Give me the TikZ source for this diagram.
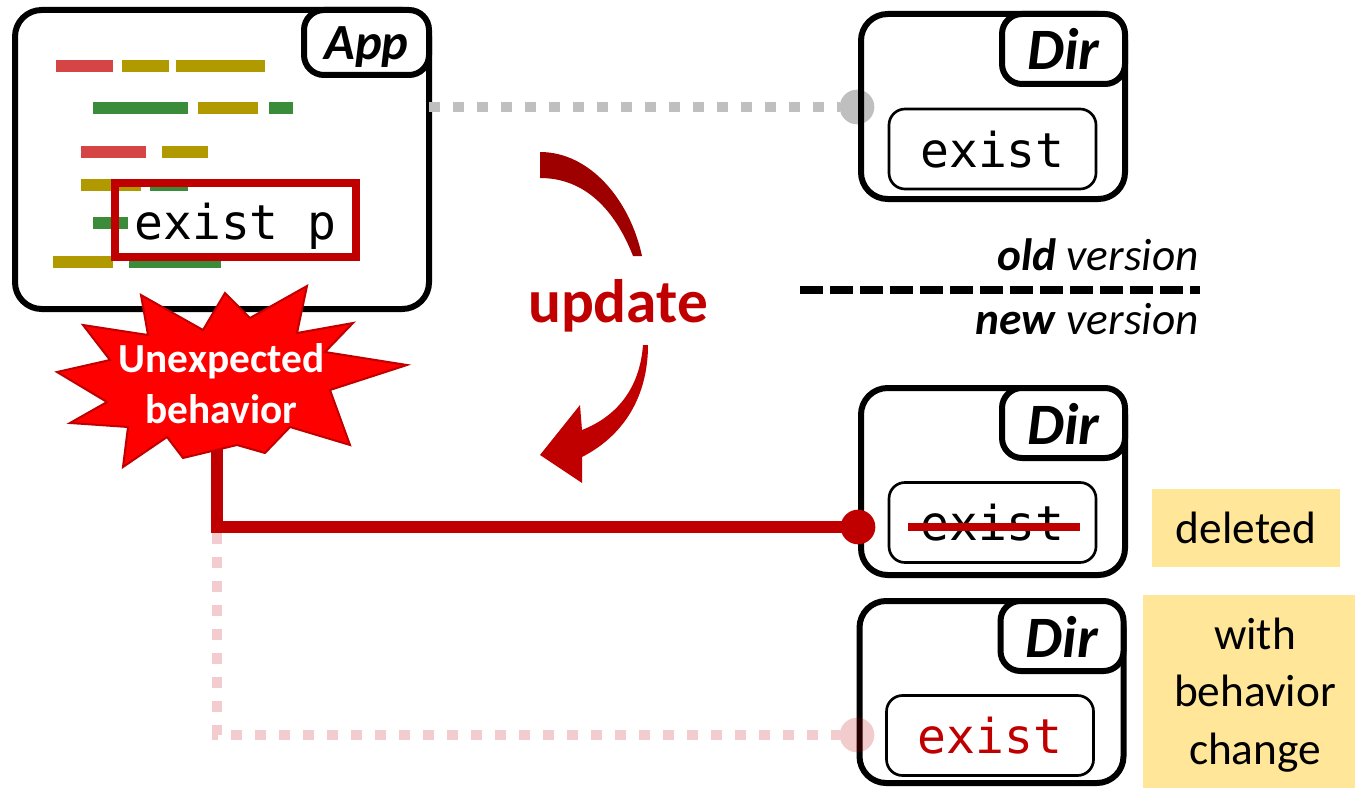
\documentclass[tikz,border=0pt]{standalone}
\usepackage{fontspec}
\setmainfont{Carlito}
\newfontfamily\codefont{DejaVu Sans Mono}
\usetikzlibrary{calc}

\definecolor{darkred}{RGB}{192,0,0}
\definecolor{arrowtop}{RGB}{158,0,0}
\definecolor{burstred}{RGB}{255,0,0}
\definecolor{noteyellow}{RGB}{255,230,153}
\definecolor{linkgray}{RGB}{191,191,191}
\definecolor{linkpink}{RGB}{242,204,206}
\definecolor{barred}{RGB}{213,69,69}
\definecolor{barolive}{RGB}{176,154,0}
\definecolor{bargreen}{RGB}{58,140,58}

\tikzset{
  outerbox/.style={draw=black, line width=4.5pt, rounded corners=20pt, inner sep=0pt, outer sep=0pt},
  tagbox/.style={draw=black, fill=white, line width=4.5pt, rounded corners=15pt, inner sep=0pt, outer sep=0pt,
    anchor=north east, text height=#1, text depth=0pt,
    font=\bfseries\itshape\fontsize{38pt}{40pt}\selectfont},
  dirtag/.style={tagbox=31.5pt, minimum width=92.25pt, minimum height=52.5pt,
    font=\bfseries\itshape\fontsize{44pt}{46pt}\selectfont},
  itembox/.style={draw=black, line width=2pt, rounded corners=12pt, inner sep=0pt, outer sep=0pt,
    minimum width=155.25pt, minimum height=60pt, text height=27pt, text depth=0pt,
    font=\codefont\fontsize{36pt}{38pt}\selectfont},
  dirbox/.style={outerbox, minimum width=198pt, minimum height=#1},
  anchordot/.style={circle, inner sep=0pt, outer sep=0pt, minimum size=26pt},
  link/.style={line width=7.5pt, dash pattern=on 8.25pt off 9.75pt},
  note/.style={fill=noteyellow, inner sep=0pt, outer sep=0pt, align=center,
    font=\fontsize{34pt}{43pt}\selectfont},
  legendtext/.style={anchor=base east, inner sep=0pt, font=\fontsize{34pt}{36pt}\selectfont},
}

\begin{document}
\begin{tikzpicture}[x=0.75pt,y=-0.75pt]
\useasboundingbox (0,0) rectangle (1355,788);

% ---------- application source (coloured code lines) ----------
\foreach \xa/\xb/\ya/\col in {
   56/113/60/barred, 122/169/60/barolive, 176/265/60/barolive,
   93/188/102/bargreen, 198/258/102/barolive, 269/293/102/bargreen,
   81/146/146/barred, 162/208/146/barolive,
   81/141/179/barolive, 150/188/179/bargreen,
   93/128/217/bargreen,
   53/113/256/barolive, 129/221/256/bargreen}
  \fill[\col] (\xa,\ya) rectangle (\xb,\ya+12);

\node[outerbox, minimum width=310.5pt, minimum height=224.25pt] (app) at (222,159.5) {};
\node[tagbox=26.25pt, minimum width=93.75pt, minimum height=48.75pt] (apptag) at (app.north east) {App};

\node[draw=darkred, line width=6pt, inner sep=0pt, outer sep=0pt,
      minimum width=180.75pt, minimum height=55.5pt, text height=28.5pt, text depth=0pt,
      font=\codefont\fontsize{36pt}{38pt}\selectfont] (call) at (235.5,220) {exist p};

% ---------- old version of the directory ----------
\node[anchordot, fill=linkgray] (dot1) at (857,107) {};
\node[dirbox=138.75pt] (dir1) at (993,106.5) {};
\node[dirtag] (dir1tag) at (dir1.north east) {Dir};
\node[itembox] (item1) at (992.5,149) {exist};
\draw[link, draw=linkgray] (app.east |- dot1.center) -- (dot1.west);

% ---------- new version: entry deleted ----------
\node[dirbox=140.25pt] (dir2) at (993,481.5) {};
\node[dirtag] (dir2tag) at (dir2.north east) {Dir};
\node[itembox] (item2) at (992.5,522.5) {exist};
\draw[darkred, line width=6pt] ($(item2.west)+(19,4.5)$) -- ($(item2.east)+(-16,4.5)$);
\node[anchordot, fill=darkred] (dot2) at (858,527) {};

% ---------- new version: entry with changed behavior ----------
\node[dirbox=136.5pt] (dir3) at (991.5,692) {};
\node[dirtag] (dir3tag) at (dir3.north east) {Dir};
\node[itembox, text=darkred] (item3) at (990,735.5) {exist};
\node[anchordot, fill=darkred, fill opacity=0.2] (dot3) at (857,735) {};

% ---------- links from the failing call ----------
\coordinate (burstfoot) at (217,420);
\coordinate (split) at (217,533);
\draw[link, draw=linkpink] (split) |- (dot3.west);
\draw[darkred, line width=8.5pt] (burstfoot) |- (dot2.center);

% ---------- explosion ----------
\fill[burstred, draw=darkred, line width=1.5pt, line join=miter]
  (141,295) -- (203,330) -- (225,293) -- (250,318) -- (307,286) -- (297,333)
  -- (353,323) -- (325,352) -- (407,365) -- (330,390) -- (350,445) -- (290,427)
  -- (265,453) -- (237,445) -- (183,458) -- (167,437) -- (123,467) -- (128,427)
  -- (70,423) -- (107,402) -- (57,372) -- (110,360) -- (83,325) -- (148,335) -- cycle;
\node[text=white, align=center, inner sep=0pt,
      font=\bfseries\fontsize{31pt}{38.25pt}\selectfont] (burst) at (221.5,384) {Unexpected\\behavior};

% ---------- update arrow ----------
\fill[arrowtop] (540,152) .. controls (590,152) and (630,200) .. (642,256)
  -- (633,256) .. controls (615,210) and (585,178) .. (540,178) -- cycle;
\fill[darkred] (643,345) .. controls (640,385) and (620,415) .. (582,430)
  -- (580,405) -- (540,455) -- (582,483) -- (582,457)
  .. controls (625,435) and (648,395) .. (648,345) -- cycle;
\node[anchor=base, inner sep=0pt, text=darkred,
      font=\bfseries\fontsize{46pt}{48pt}\selectfont] (update) at (618,322) {update};

% ---------- version separator ----------
\coordinate (sepL) at (800,290);
\coordinate (sepR) at (1200,290);
\draw[line width=5.5pt, dash pattern=on 17pt off 5.5pt] (sepL) -- (sepR);
\node[legendtext] (oldv) at (1199,270) {\textbf{\textit{old}} \textit{version}};
\node[legendtext] (newv) at (1199,334) {\textbf{\textit{new}} \textit{version}};

% ---------- notes ----------
\node[note, minimum width=141pt, minimum height=58.5pt, text height=22.5pt, text depth=0pt]
  (deleted) at (1246,528) {deleted};
\node[note, minimum width=168pt, minimum height=150pt] (changed) at (1255,695) {with\\behavior\\change};
\end{tikzpicture}
\end{document}
